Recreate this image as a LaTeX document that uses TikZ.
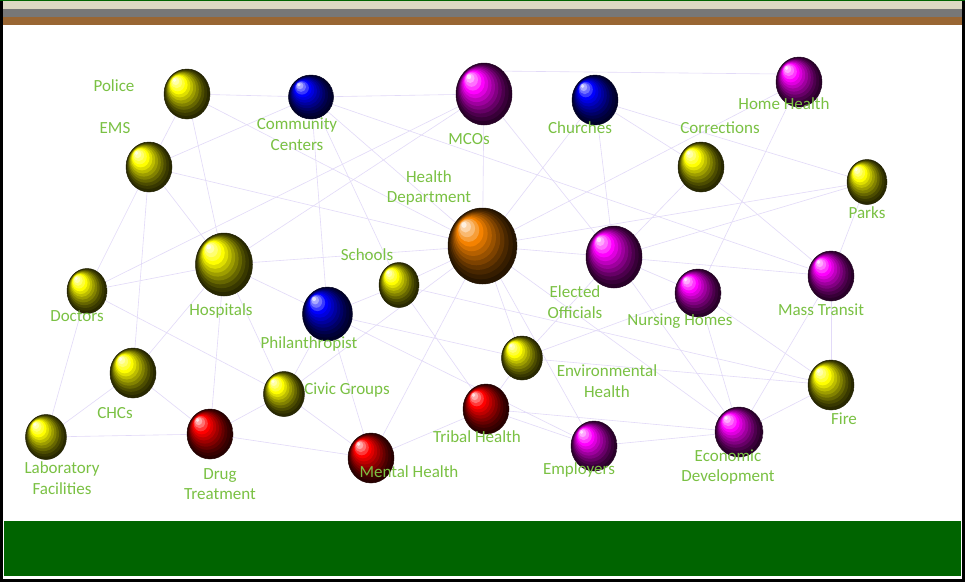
\documentclass[tikz,border=0pt]{standalone}
\usepackage{fontspec}
\setmainfont{Carlito}
\usetikzlibrary{shapes.geometric}
\definecolor{tagcol}{HTML}{7AC143}
\definecolor{linkcol}{HTML}{E2DAF8}
\definecolor{bandbeige}{HTML}{DDD9C3}
\definecolor{bandgrey}{HTML}{777777}
\definecolor{bandbrown}{HTML}{996633}
\definecolor{footgreen}{HTML}{006400}
\definecolor{yel}{HTML}{FFFF00}
\definecolor{blu}{HTML}{0000FF}
\definecolor{mag}{HTML}{FF00FF}
\definecolor{rd}{HTML}{FF0000}
\definecolor{org}{HTML}{F58200}
\pgfdeclarelayer{frame}
\pgfdeclarelayer{links}
\pgfsetlayers{frame,links,main}

% stepped bands of a ball, lit from the upper left
\newcommand{\ballbands}[3]{%
  \foreach \k in {0,...,12}{%
    \pgfmathsetmacro{\f}{1-\k/13}%
    \pgfmathsetmacro{\dx}{0.58*#2*(1-\f)}%
    \pgfmathsetmacro{\dy}{0.6*#3*(1-\f)}%
    \ifnum\k<9
      \pgfmathtruncatemacro{\p}{16+84*(\k/8)^1.25}%
      \fill[#1!\p!black] ([shift={(-\dx pt,\dy pt)}]path picture bounding box.center)
        ellipse [x radius={\f*#2pt}, y radius={\f*#3pt}];
    \else
      \pgfmathtruncatemacro{\p}{100-22*(\k-8)}%
      \fill[#1!\p!white] ([shift={(-\dx pt,\dy pt)}]path picture bounding box.center)
        ellipse [x radius={\f*#2pt}, y radius={\f*#3pt}];
    \fi
  }%
}

\tikzset{
  ball/.style n args={3}{ellipse, inner sep=0pt, minimum width={2*#2pt},
    minimum height={2*#3pt}, draw=#1!12!black, line width=0.5pt,
    path picture={\ballbands{#1}{#2}{#3}}},
  tag/.style={text=tagcol, font=\fontsize{17}{20.5}\selectfont, inner sep=0pt, align=center},
  link/.style={draw=linkcol, line width=0.6pt},
}

\begin{document}
\begin{tikzpicture}[x=1pt, y=-1pt]
    \useasboundingbox (0,0) rectangle (965,582);
    % frame and bands
    \begin{pgfonlayer}{frame}
    \fill[black] (0,0) rectangle (965,582);
    \fill[white] (3,1) rectangle (962,579);
    \fill[footgreen] (0,0) rectangle (965,1);
    \fill[bandbeige] (3,1) rectangle (962,9);
    \fill[bandgrey] (3,9) rectangle (962,17);
    \fill[bandbrown] (3,17) rectangle (962,25);
    \fill[footgreen] (4,521) rectangle (961,576);
    \end{pgfonlayer}

    % balls
    \node[ball={yel}{23}{25}] (police) at (187,94) {};
    \node[ball={blu}{22.5}{22}] (comm) at (311,97) {};
    \node[ball={mag}{28}{31}] (mco) at (484,94) {};
    \node[ball={blu}{23}{25}] (church) at (595,100) {};
    \node[ball={mag}{23}{25}] (homeh) at (799,82) {};
    \node[ball={yel}{23}{25}] (corr) at (701,167) {};
    \node[ball={yel}{20}{22.5}] (parks) at (867,182) {};
    \node[ball={yel}{23}{25}] (ems) at (149,167) {};
    \node[ball={org}{34.5}{38}] (hd) at (482.5,246) {};
    \node[ball={yel}{20}{22.5}] (school) at (399,285) {};
    \node[ball={mag}{28}{31}] (elect) at (614,257) {};
    \node[ball={mag}{23}{24}] (nurse) at (698,293) {};
    \node[ball={mag}{23}{25}] (transit) at (831,276) {};
    \node[ball={yel}{28.5}{31.5}] (hosp) at (224,264.5) {};
    \node[ball={yel}{20}{22.5}] (doc) at (87,291) {};
    \node[ball={blu}{25}{27}] (phil) at (327.5,314) {};
    \node[ball={yel}{23}{25}] (chc) at (133,373) {};
    \node[ball={yel}{20.5}{22.5}] (civic) at (284,394) {};
    \node[ball={yel}{20.5}{22}] (env) at (522,358) {};
    \node[ball={rd}{23}{25}] (tribal) at (486,409) {};
    \node[ball={mag}{23}{25}] (employ) at (594,446) {};
    \node[ball={mag}{24}{25}] (econ) at (739,432) {};
    \node[ball={yel}{23}{25}] (fire) at (831,385) {};
    \node[ball={yel}{20.5}{22.5}] (lab) at (46,437) {};
    \node[ball={rd}{23}{25}] (drug) at (210,434) {};
    \node[ball={rd}{23}{25}] (mental) at (371,458) {};

    % links, behind the balls
    \begin{pgfonlayer}{links}
    \draw[link] (mco.50) -- (homeh.160);
    \foreach \a/\b in {police/comm, comm/mco, police/ems, ems/comm,
        police/hosp, police/hd, comm/school, comm/phil, comm/hd, comm/transit,
        mco/hosp, mco/hd, mco/elect, doc/mco, ems/hd, ems/hosp, ems/doc, ems/chc,
        hosp/hd, doc/hosp, school/hd, church/hd, church/elect, church/parks,
        church/corr, corr/transit, corr/elect, hd/homeh, homeh/nurse, hd/parks,
        elect/parks, elect/transit, hd/elect, parks/transit, doc/lab, doc/civic,
        hosp/chc, lab/chc, lab/drug, chc/drug, drug/hosp, drug/civic, drug/mental,
        hosp/civic, hosp/phil, phil/civic, phil/school, phil/mental, civic/mental,
        civic/hd, mental/tribal, mental/hd, phil/env, phil/employ, school/tribal,
        school/fire, hd/env, hd/employ, hd/econ, env/nurse, env/elect, elect/econ,
        nurse/fire, transit/econ, transit/fire, fire/econ, tribal/econ,
        tribal/employ, employ/econ, tribal/env, nurse/econ, elect/nurse, env/fire}
        \draw[link] (\a) -- (\b);
    \end{pgfonlayer}

    % labels
    \node[tag, anchor=base] (police-t) at (114,91) {Police};
    \node[tag] (comm-t) at (297,134) {Community\\Centers};
    \node[tag, anchor=base] (ems-t) at (115,133) {EMS};
    \node[tag, anchor=base] (mco-t) at (469,144) {MCOs};
    \node[tag, anchor=base] (church-t) at (580,133) {Churches};
    \node[tag, anchor=base] (homeh-t) at (784,109) {Home Health};
    \node[tag, anchor=base] (corr-t) at (720,133) {Corrections};
    \node[tag, anchor=base] (parks-t) at (867,218) {Parks};
    \node[tag] (hd-t) at (429,188) {Health\\Department};
    \node[tag, anchor=base] (school-t) at (367,260) {Schools};
    \node[tag] (elect-t) at (575,302) {Elected\\Officials};
    \node[tag, anchor=base] (nurse-t) at (680,325) {Nursing Homes};
    \node[tag, anchor=base] (transit-t) at (821,315) {Mass Transit};
    \node[tag, anchor=base] (hosp-t) at (221,315) {Hospitals};
    \node[tag, anchor=base] (doc-t) at (77,321) {Doctors};
    \node[tag, anchor=base] (phil-t) at (309,348) {Philanthropist};
    \node[tag, anchor=base] (civic-t) at (347,394) {Civic Groups};
    \node[tag, anchor=base] (chc-t) at (115,418) {CHCs};
    \node[tag] (env-t) at (607,381) {Environmental\\Health};
    \node[tag, anchor=base] (tribal-t) at (477,442) {Tribal Health};
    \node[tag, anchor=base] (employ-t) at (579,474) {Employers};
    \node[tag] (econ-t) at (728,467) {Economic\\Development};
    \node[tag, anchor=base] (fire-t) at (844,424) {Fire};
    \node[tag] (lab-t) at (62,478) {Laboratory\\Facilities};
    \node[tag] (drug-t) at (220,484) {Drug\\Treatment};
    \node[tag, anchor=base] (mental-t) at (409,477) {Mental Health};
\end{tikzpicture}
\end{document}
